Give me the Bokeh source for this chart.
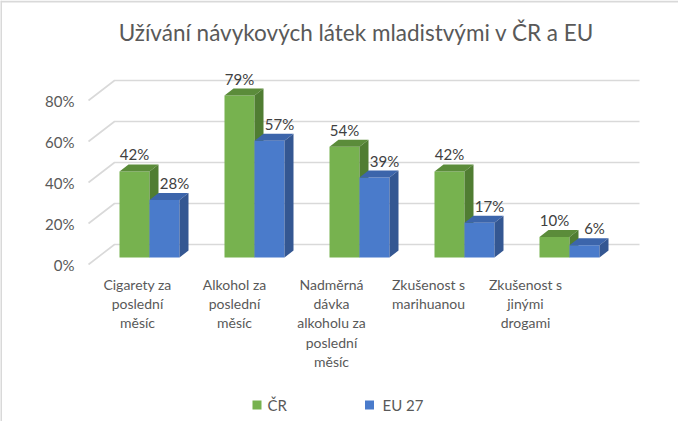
import numpy as np
from bokeh.plotting import figure
from bokeh.models import Range1d
from bokeh.core.properties import value
from bokeh.embed import file_html
from bokeh.resources import INLINE

# ---- data ----
categories = [
    "Cigarety za\nposlední\nměsíc",
    "Alkohol za\nposlední\nměsíc",
    "Nadměrná\ndávka\nalkoholu za\nposlední\nměsíc",
    "Zkušenost s\nmarihuanou",
    "Zkušenost s\njinými\ndrogami",
]
series_names = ["ČR", "EU 27"]
cr_values = [42, 79, 54, 42, 10]
eu_values = [28, 57, 39, 17, 6]
tick_values = [0, 20, 40, 60, 80]
tick_labels = ["0%", "20%", "40%", "60%", "80%"]
title_text = "Užívání návykových látek mladistvými v ČR a EU"

# ---- layout constants (pixel -> data conversions) ----
GX = 105.0          # px per category group
GY = 2.05           # px per percent
BW = 30 / GX        # bar width
DX = 9 / GX         # depth offset x
DY = 7 / GY         # depth offset y
BACK = 13 / GY      # back wall offset
FRONT = -7 / GY     # front edge offset
WALL_L = -35 / GX
WALL_R = 490 / GX
FRONT_L = -61 / GX

W, H = 678, 421
x_start = (8 - 157) / GX
x_end = (8 + W - 157) / GX
y_end = (265 - 8) / GY
y_start = (265 - 8 - H) / GY

FONT = value("Lato")
GRAY = "#595959"
DARK = "#404040"

p = figure(width=W, height=H, output_backend="svg", toolbar_location=None,
           x_range=Range1d(x_start, x_end), y_range=Range1d(y_start, y_end),
           x_axis_location=None, y_axis_location=None, min_border=0)
p.grid.visible = False
p.outline_line_color = None
p.background_fill_color = "white"
p.border_fill_color = "white"

# chart-area border (top and left visible)
p.segment(x0=[x_start, x_start + 0.5 / GX], y0=[y_end - 1 / GY, y_end],
          x1=[x_end, x_start + 0.5 / GX], y1=[y_end - 1 / GY, y_start],
          line_color="#d9d9d9", line_width=2)

# gridlines: front diagonal + back wall
gxs, gys = [], []
for t in tick_values:
    gxs.append([FRONT_L, WALL_L, WALL_R])
    gys.append([t + FRONT, t + BACK, t + BACK])
p.multi_line(xs=gxs, ys=gys, line_color="#d9d9d9", line_width=1.6)

# tick labels
p.text(x=[-75 / GX] * len(tick_values), y=[t + FRONT for t in tick_values],
       text=tick_labels, text_align="right", text_baseline="middle",
       text_font=FONT, text_font_size="15px", text_color=GRAY)

xc = np.arange(len(categories), dtype=float)


def draw_bars(left, vals, front_col, top_col, side_col):
    right = left + BW
    p.quad(left=left, right=right, bottom=0, top=vals,
           fill_color=front_col, line_color=None)
    txs = [[l, r, r + DX, l + DX] for l, r in zip(left, right)]
    tys = [[v, v, v + DY, v + DY] for v in vals]
    p.patches(xs=txs, ys=tys, fill_color=top_col, line_color=None)
    sxs = [[r, r + DX, r + DX, r] for r in right]
    sys_ = [[0, DY, v + DY, v] for v in vals]
    p.patches(xs=sxs, ys=sys_, fill_color=side_col, line_color=None)


GREEN, GREEN_TOP, GREEN_SIDE = "#77b24f", "#5b8c3a", "#507d32"
BLUE, BLUE_TOP, BLUE_SIDE = "#4a7bcb", "#3c65ab", "#345792"

draw_bars(xc - BW, np.array(cr_values, float), GREEN, GREEN_TOP, GREEN_SIDE)
draw_bars(xc, np.array(eu_values, float), BLUE, BLUE_TOP, BLUE_SIDE)

# data labels
p.text(x=xc - BW / 2, y=[v + 17 / GY for v in cr_values],
       text=[f"{v}%" for v in cr_values], text_align="center",
       text_baseline="middle", text_font=FONT, text_font_size="15px",
       text_color=DARK)
p.text(x=xc + BW / 2 + 10 / GX, y=[v + 17 / GY for v in eu_values],
       text=[f"{v}%" for v in eu_values], text_align="center",
       text_baseline="middle", text_font=FONT, text_font_size="15px",
       text_color=DARK)

# category labels
cat_x = [(i * 97 - 12) / GX for i in range(len(categories))]
p.text(x=cat_x, y=[-9.0] * len(categories), text=categories,
       text_align="center", text_baseline="top", text_font=FONT,
       text_font_size="14px", text_color=GRAY, text_line_height=1.13)

# title
p.text(x=[(364 - 157) / GX], y=[(265 - 40) / GY], text=[title_text],
       text_align="center", text_baseline="middle", text_font=FONT,
       text_font_size="22.5px", text_color=GRAY)

# legend
leg_y = (265 - 412.5) / GY
p.scatter(x=[(264.5 - 157) / GX, (377 - 157) / GX], y=[leg_y, leg_y],
          marker="square", size=9, fill_color=[GREEN, BLUE], line_color=None)
p.text(x=[(275 - 157) / GX, (390 - 157) / GX], y=[leg_y, leg_y],
       text=series_names, text_align="left", text_baseline="middle",
       text_font=FONT, text_font_size="15px", text_color=GRAY)

open("out.html", "w").write(file_html(p, INLINE))
